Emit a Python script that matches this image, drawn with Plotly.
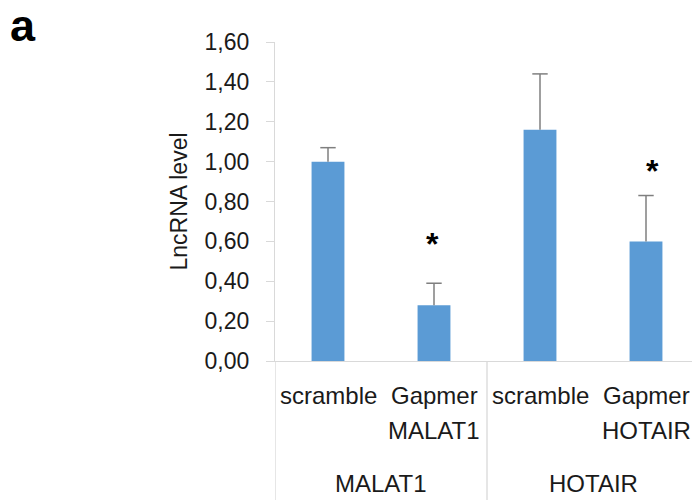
import plotly.graph_objects as go

groups = ["MALAT1", "HOTAIR"]
conditions_line1 = ["scramble", "Gapmer", "scramble", "Gapmer"]
conditions_line2 = ["", "MALAT1", "", "HOTAIR"]
values = [1.00, 0.28, 1.16, 0.60]
errors = [0.07, 0.11, 0.28, 0.23]
significant = [False, True, False, True]
y_ticks = [0.0, 0.2, 0.4, 0.6, 0.8, 1.0, 1.2, 1.4, 1.6]

# per-bar asterisk pixel offsets (styling only)
star_xshift = [0, -2, 0, 6]
star_yshift = [0, 39, 0, 25]

x = list(range(len(values)))
FONT = "Liberation Sans"
TXT = "#1a1a1a"
BAR = "#5B9BD5"
ERR = "#7F7F7F"

upper = [v + e for v, e in zip(values, errors)]

fig = go.Figure()
# bars with upper error stems (no caps)
fig.add_trace(go.Bar(
    x=x, y=values,
    marker=dict(color=BAR, line=dict(width=0)),
    width=0.31,
    error_y=dict(type="data", array=errors, arrayminus=[0]*len(errors),
                 color=ERR, thickness=1.5, width=0),
    showlegend=False,
))
# caps at the top of the error bars
fig.add_trace(go.Scatter(
    x=x, y=upper, mode="markers",
    marker=dict(symbol="line-ew", size=11, color=ERR,
                line=dict(color=ERR, width=1.5)),
    showlegend=False, hoverinfo="skip",
))

annotations = []
for i in x:
    annotations.append(dict(x=i, y=0, xref="x", yref="paper", yshift=-34,
                            text=conditions_line1[i], showarrow=False,
                            font=dict(size=24, color=TXT, family=FONT),
                            yanchor="middle"))
    if conditions_line2[i]:
        annotations.append(dict(x=i, y=0, xref="x", yref="paper", yshift=-69,
                                text=conditions_line2[i], showarrow=False,
                                font=dict(size=24, color=TXT, family=FONT),
                                yanchor="middle"))
    if significant[i]:
        annotations.append(dict(x=i, y=upper[i], xref="x", yref="y",
                                xshift=star_xshift[i], yshift=star_yshift[i],
                                text="<b>*</b>", showarrow=False,
                                font=dict(size=32, color="black", family=FONT),
                                yanchor="middle"))
for g, name in enumerate(groups):
    annotations.append(dict(x=2 * g + 0.5, y=0, xref="x", yref="paper", yshift=-122,
                            text=name, showarrow=False,
                            font=dict(size=24, color=TXT, family=FONT),
                            yanchor="middle"))
annotations.append(dict(x=0, y=0.5, xref="paper", yref="paper", xshift=-97,
                        text="LncRNA level", textangle=-90, showarrow=False,
                        font=dict(size=23, color=TXT, family=FONT),
                        xanchor="center", yanchor="middle"))
annotations.append(dict(x=0, y=1, xref="paper", yref="paper",
                        xshift=-267, yshift=17,
                        text="<b>a</b>", showarrow=False,
                        font=dict(size=45, color="black", family=FONT),
                        xanchor="left", yanchor="middle"))

shapes = []
for b in [-0.5, 1.5, 3.5]:
    shapes.append(dict(type="line", xref="x", yref="paper", x0=b, x1=b,
                       y0=0, y1=-139 / 319, line=dict(color="#D9D9D9", width=1.3)))

fig.update_layout(
    width=692, height=500,
    margin=dict(l=275, r=0, t=42, b=139),
    plot_bgcolor="white", paper_bgcolor="white",
    separators=", ",
    annotations=annotations,
    shapes=shapes,
)
fig.update_xaxes(range=[-0.5, -0.5 + 417 / 106], showticklabels=False,
                 showline=True, linecolor="#D9D9D9", linewidth=1.3,
                 ticks="", showgrid=False, zeroline=False, fixedrange=True)
fig.update_yaxes(range=[0, 1.6], tickvals=y_ticks, tickformat=".2f",
                 showline=True, linecolor="#D9D9D9", linewidth=1.3,
                 ticks="outside", ticklen=8, tickcolor="#D9D9D9", tickwidth=1.3,
                 showgrid=False, zeroline=False,
                 tickfont=dict(size=23, color=TXT, family=FONT),
                 ticklabelstandoff=12)

# remove the default page margin so the 692x500 figure fills the window exactly
fig.write_html("out.html", config={"displayModeBar": False},
               post_script="document.body.style.margin='0';document.body.style.overflow='hidden';")
